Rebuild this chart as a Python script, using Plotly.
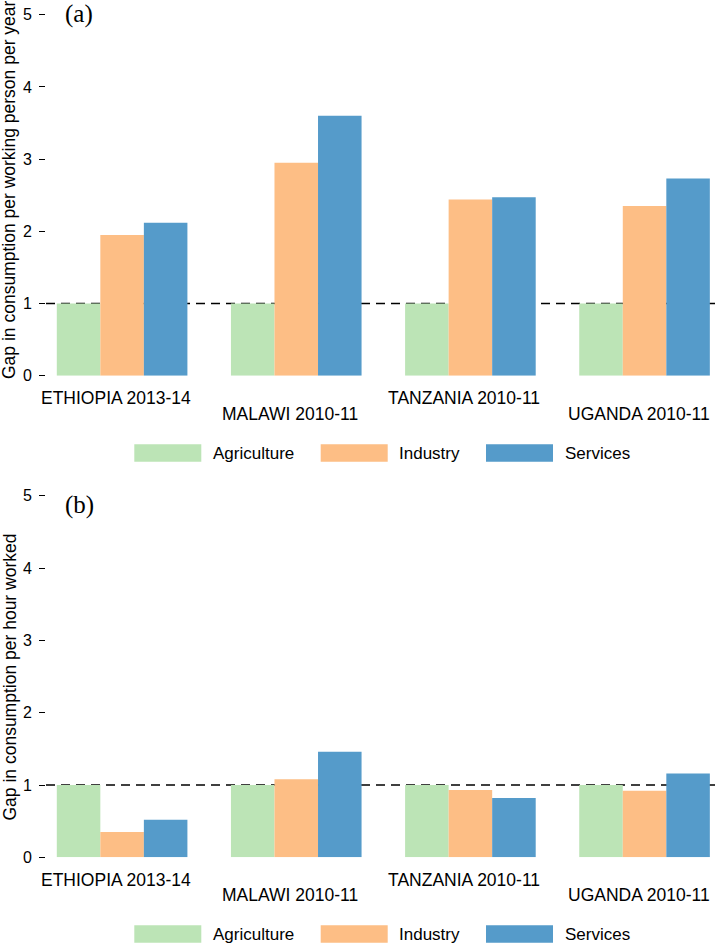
import plotly.graph_objects as go

# data
countries = ["ETHIOPIA 2013-14", "MALAWI 2010-11", "TANZANIA 2010-11", "UGANDA 2010-11"]
sectors = ["Agriculture", "Industry", "Services"]
colors = ["#BCE4B6", "#FDBE85", "#559BCA"]

# panel (a): gap in consumption per working person per year
gap_person_agr = [1.0, 1.0, 1.0, 1.0]
gap_person_ind = [1.95, 2.95, 2.44, 2.35]
gap_person_ser = [2.12, 3.60, 2.47, 2.73]

# panel (b): gap in consumption per hour worked
gap_hour_agr = [1.0, 1.0, 1.0, 1.0]
gap_hour_ind = [0.35, 1.08, 0.93, 0.92]
gap_hour_ser = [0.52, 1.46, 0.82, 1.16]

y_ticks = [0, 1, 2, 3, 4, 5]

W, H = 721, 952
L = 46  # left margin in px
FONT = "Liberation Sans, Arial, sans-serif"
SERIF = "Liberation Serif, Times New Roman, serif"


# helpers: pixel -> paper coords
def px_x(p):
    return (p - L) / (W - L)


def px_y(p):
    return 1 - p / H


fig = go.Figure()

panels = [
    ("x", "y", [gap_person_agr, gap_person_ind, gap_person_ser]),
    ("x2", "y2", [gap_hour_agr, gap_hour_ind, gap_hour_ser]),
]
for xa, ya, series in panels:
    for name, vals, col in zip(sectors, series, colors):
        fig.add_trace(go.Bar(
            x=countries, y=vals, name=name, marker_color=col,
            marker_line_width=0, xaxis=xa, yaxis=ya, showlegend=False,
        ))

# axis domains (pixel positions of y=0 and y=5 for each panel)
dom_a = [px_y(375.7), px_y(14.7)]
dom_b = [px_y(857.3), px_y(495.8)]

xcommon = dict(range=[-0.437, 3.439], showticklabels=False, ticks="",
               showline=False, showgrid=False, zeroline=False, automargin=False)
ycommon = dict(range=[0, 5], tickvals=y_ticks, ticks="outside", ticklen=6,
               tickwidth=1, tickcolor="black", showline=False, showgrid=False,
               zeroline=False, automargin=False, ticklabelstandoff=4,
               tickfont=dict(family=FONT, size=16, color="black"))

fig.update_layout(
    template="none",
    width=W, height=H,
    margin=dict(l=L, r=0, t=0, b=0, pad=0),
    paper_bgcolor="white", plot_bgcolor="white",
    barmode="group", bargap=0.25, bargroupgap=0,
    xaxis=dict(domain=[0, 1], anchor="y", **xcommon),
    yaxis=dict(domain=dom_a, anchor="x", **ycommon),
    xaxis2=dict(domain=[0, 1], anchor="y2", **xcommon),
    yaxis2=dict(domain=dom_b, anchor="x2", **ycommon),
    font=dict(family=FONT, color="black"),
)

# dashed reference line at 1
for xa, ya in [("x", "y"), ("x2", "y2")]:
    fig.add_shape(type="line", xref=f"{xa} domain", yref=ya, x0=0, x1=1, y0=1, y1=1,
                  line=dict(color="black", width=1.4, dash="9px,6px"), layer="below")

annotations = []
# staggered country labels
for xa, ya in [("x", "y"), ("x2", "y2")]:
    for i, c in enumerate(countries):
        annotations.append(dict(
            x=c, y=0, xref=xa, yref=ya, text=c, showarrow=False,
            xanchor="center", yanchor="middle", xshift=-6,
            yshift=-22.5 if i % 2 == 0 else -38,
            font=dict(family=FONT, size=17.5, color="black"),
        ))

# y titles
for ytxt, yc in [("Gap in consumption per working person per year", 190),
                 ("Gap in consumption per hour worked", 677.5)]:
    annotations.append(dict(
        x=px_x(9), y=px_y(yc), xref="paper", yref="paper", text=ytxt,
        textangle=-90, showarrow=False, xanchor="center", yanchor="middle",
        font=dict(family=FONT, size=17.5, color="black"),
    ))

# panel labels
for lab, yc in [("(a)", 14), ("(b)", 505)]:
    annotations.append(dict(
        x=px_x(63), y=px_y(yc), xref="paper", yref="paper", text=lab,
        showarrow=False, xanchor="left", yanchor="middle",
        font=dict(family=SERIF, size=25, color="black"),
    ))

# legends (wide swatches, drawn by hand)
sw_left = [134.3, 320.7, 486.0]
sw_w, sw_h = 67, 17.4
for yc in [453, 934]:
    for name, col, x0 in zip(sectors, colors, sw_left):
        fig.add_shape(type="rect", xref="paper", yref="paper",
                      x0=px_x(x0), x1=px_x(x0 + sw_w),
                      y0=px_y(yc + sw_h / 2), y1=px_y(yc - sw_h / 2),
                      fillcolor=col, line_width=0)
        annotations.append(dict(
            x=px_x(x0 + sw_w + 9.5), y=px_y(yc), xref="paper", yref="paper",
            text=name, showarrow=False, xanchor="left", yanchor="middle",
            font=dict(family=FONT, size=17, color="black"),
        ))

fig.update_layout(annotations=annotations)

# drop the default 8px body margin so the figure sits at the page corner
fig.write_html("out.html", config={"displayModeBar": False},
               post_script="document.body.style.margin='0';document.body.style.overflow='hidden';")
